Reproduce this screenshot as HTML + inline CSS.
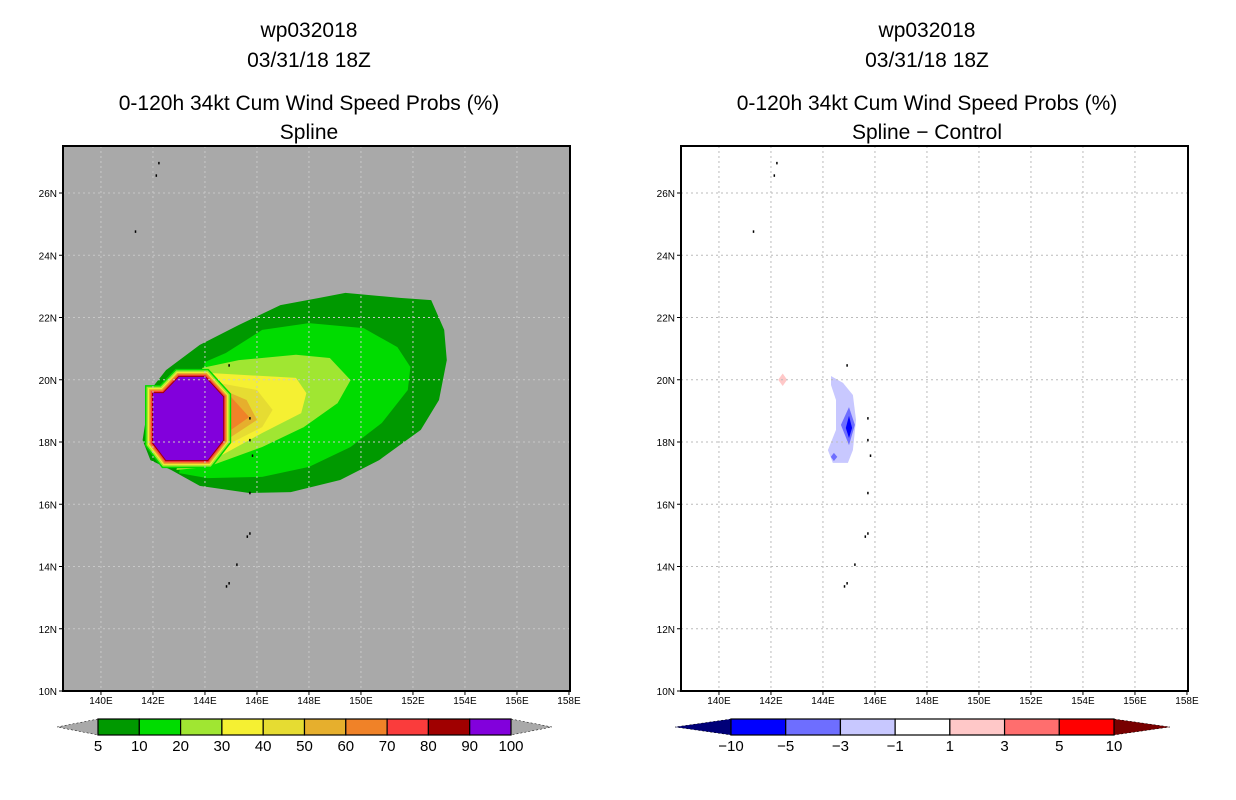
<!DOCTYPE html>
<html><head><meta charset="utf-8"><style>
body{margin:0;background:#fff;}
svg{display:block;font-family:"Liberation Sans",sans-serif;}
.t{font-size:21px;text-anchor:middle;fill:#000;}
.ax{font-size:10px;fill:#000;}
.cb{font-size:15px;text-anchor:middle;fill:#000;}
</style></head><body>
<svg id="s" width="1236" height="800" viewBox="0 0 1236 800">
<text class="t" x="309" y="37">wp032018</text>
<text class="t" x="309" y="67">03/31/18 18Z</text>
<text class="t" x="309" y="110">0-120h 34kt Cum Wind Speed Probs (%)</text>
<text class="t" x="309" y="139">Spline</text>
<text class="t" x="927" y="37">wp032018</text>
<text class="t" x="927" y="67">03/31/18 18Z</text>
<text class="t" x="927" y="110">0-120h 34kt Cum Wind Speed Probs (%)</text>
<text class="t" x="927" y="139">Spline − Control</text>
<g id="L"></g>
<g id="R"></g>
<g id="CB"></g>
</svg>
<script>
const lonTicks=[140,142,144,146,148,150,152,154,156,158];
const latTicks=[10,12,14,16,18,20,22,24,26];
const probLevels=[5,10,20,30,40,50,60,70,80,90,100];
const probColors=["#009900","#00dc00","#a0e632","#f5f032","#e6dc32","#e6af2d","#f08228","#fa3c3c","#a00000","#8200dc"];
const diffLevels=[-10,-5,-3,-1,1,3,5,10];
const diffColors=["#0000ff","#6e6eff","#c8c8ff","#ffffff","#ffc8c8","#ff6e6e","#ff0000"];
const c5=[[141.6,18.06],[141.9,19.67],[142.5,20.31],[143.8,21.12],[145.3,21.76],[146.9,22.4],[148.4,22.63],[149.4,22.79],[151.5,22.63],[152.7,22.56],[153.2,21.6],[153.3,20.63],[153.0,19.35],[152.3,18.39],[150.7,17.42],[149.2,16.78],[147.3,16.39],[145.7,16.36],[143.8,16.59],[142.7,17.1],[141.9,17.42]];
const c10=[[144.0,20.57],[144.8,20.86],[146.2,21.6],[148.0,21.82],[150.1,21.66],[151.4,21.05],[151.9,20.41],[151.8,19.67],[150.8,18.61],[149.6,17.84],[148.0,17.2],[146.2,16.88],[144.1,16.84],[143.0,17.0]];
const c20=[[143.9,20.38],[145.3,20.63],[147.5,20.8],[148.8,20.7],[149.6,19.99],[149.1,19.25],[147.8,18.48],[146.2,17.84],[144.1,17.2],[142.9,17.1]];
const c30=[[144.1,20.22],[147.5,20.06],[147.9,19.57],[147.7,18.93],[146.2,18.29],[144.1,17.33]];
const c40=[[144.5,19.9],[146.0,19.67],[146.6,19.03],[146.2,18.48],[144.7,17.84]];
const c50=[[144.7,19.67],[145.6,19.35],[146.0,18.71],[145.0,18.16]];
const c60=[[145.0,19.45],[145.7,18.8],[145.0,18.39]];
const core=[[142.0,19.57],[142.4,19.57],[143.0,20.09],[144.0,20.09],[144.7,19.45],[144.7,18.06],[144.1,17.42],[142.5,17.42],[142.0,17.97]];
const dLight=[[144.31,20.12],[144.77,19.9],[145.15,19.51],[145.27,18.71],[145.15,17.74],[144.96,17.33],[144.38,17.33],[144.19,17.74],[144.5,18.39],[144.5,19.35],[144.31,19.83]];
const dMid=[[145.0,19.12],[145.23,18.55],[145.0,17.9],[144.69,18.55]];
const dMid2=[[144.42,17.65],[144.55,17.52],[144.42,17.39],[144.3,17.52]];
const dDark=[[145.0,18.84],[145.12,18.45],[145.0,18.13],[144.88,18.45]];
const dPink=[[142.45,20.2],[142.62,20.0],[142.45,19.8],[142.28,20.0]];
const islands=[[142.2,27.0],[142.1,26.6],[141.3,24.8],[144.9,20.5],[145.7,18.8],[145.7,18.1],[145.8,17.6],[145.7,16.4],[145.7,15.1],[145.6,15.0],[145.2,14.1],[144.8,13.4],[144.9,13.5]];
const NS="http://www.w3.org/2000/svg";
function el(p,t,a){const e=document.createElementNS(NS,t);for(const k in a)e.setAttribute(k,a[k]);p.appendChild(e);return e;}
function mk(x0){return {x:lon=>x0+(lon-138.54)*26,y:lat=>691-(lat-10)*31.125};}
function pts(m,arr){return arr.map(p=>m.x(p[0]).toFixed(1)+","+m.y(p[1]).toFixed(1)).join(" ");}
function map(g,x0,bg,layers){
  const m=mk(x0),w=507,top=146,bot=691;
  const r=el(g,'rect',{x:x0,y:top,width:w,height:bot-top,fill:bg});
  
  const cp='clip'+x0;const c=el(g,'clipPath',{id:cp});el(c,'rect',{x:x0,y:top,width:w,height:bot-top});
  const lg=el(g,'g',{'clip-path':'url(#'+cp+')'});
  layers(lg,m);
  const gc=bg=="#fff"?"#bbb":"#c8c8c8";
  lonTicks.forEach(l=>{if(l<158){const gl=el(lg,'line',{x1:m.x(l),x2:m.x(l),y1:top,y2:bot,stroke:gc,'stroke-dasharray':'2,3'});}});
  latTicks.forEach(l=>{if(l>10){const gl=el(lg,'line',{x1:x0,x2:x0+w,y1:m.y(l),y2:m.y(l),stroke:gc,'stroke-dasharray':'2,3'});}});
  islands.forEach(p=>{const i=el(lg,'rect',{x:m.x(p[0]),y:m.y(p[1]),width:1.5,height:2.5,fill:'#000'});});
  const f=el(g,'rect',{x:x0,y:top,width:w,height:bot-top,fill:'none',stroke:'#000','stroke-width':2});
  
  lonTicks.forEach(l=>{const x=m.x(l);el(g,'line',{x1:x,x2:x,y1:bot,y2:bot+4,stroke:'#000'});
    const t=el(g,'text',{class:'ax',x:x,y:bot+13,'text-anchor':'middle'});t.textContent=l+'E';
    });
  latTicks.forEach(l=>{const y=m.y(l);el(g,'line',{x1:x0-4,x2:x0,y1:y,y2:y,stroke:'#000'});
    const t=el(g,'text',{class:'ax',x:x0-6,y:y+4,'text-anchor':'end'});t.textContent=l+'N';
    });
}
map(document.getElementById('L'),63,'#a9a9a9',(g,m)=>{
  const P=(a,c)=>{const p=el(g,'polygon',{points:pts(m,a),fill:c});};
  P(c5,probColors[0]);P(c10,probColors[1]);P(c20,probColors[2]);P(c30,probColors[3]);P(c40,probColors[4]);P(c50,probColors[5]);P(c60,probColors[6]);
  [[16,1],[13,2],[10,3],[8,5],[6,6],[4,7],[2,8]].forEach(s=>{const p=el(g,'polygon',{points:pts(m,core),fill:'none',stroke:probColors[s[1]],'stroke-width':s[0],'stroke-linejoin':'miter'});});
  P(core,probColors[9]);
});
map(document.getElementById('R'),681,'#fff',(g,m)=>{
  const P=(a,c)=>{const p=el(g,'polygon',{points:pts(m,a),fill:c});};
  P(dLight,diffColors[2]);P(dMid,diffColors[1]);P(dMid2,diffColors[1]);P(dDark,diffColors[0]);P(dPink,diffColors[4]);
});
function cbar(x0,x1,levels,colors,lc,rc,al){
  const g=document.getElementById('CB');const y=719,h=16,n=colors.length,bw=(x1-x0)/n;
  const lt=el(g,'polygon',{points:`${x0},${y} ${x0-al},${y+h/2} ${x0},${y+h}`,fill:lc,stroke:'#000','stroke-width':0.5,'stroke-dasharray':'2,2'});
  
  const rt=el(g,'polygon',{points:`${x1},${y} ${x1+al},${y+h/2} ${x1},${y+h}`,fill:rc,stroke:'#000','stroke-width':0.5,'stroke-dasharray':'2,2'});
  
  colors.forEach((c,i)=>{const r=el(g,'rect',{x:x0+i*bw,y:y,width:bw,height:h,fill:c,stroke:'#000','stroke-width':1.2});});
  levels.forEach((v,i)=>{const t=el(g,'text',{class:'cb',x:x0+i*bw,y:751});t.textContent=String(v).replace('-','−');});
}
cbar(98,511,probLevels,probColors,'#a9a9a9','#a9a9a9',41);
cbar(731,1114,diffLevels,diffColors,'#000078','#780000',56);
</script>
</body></html>
